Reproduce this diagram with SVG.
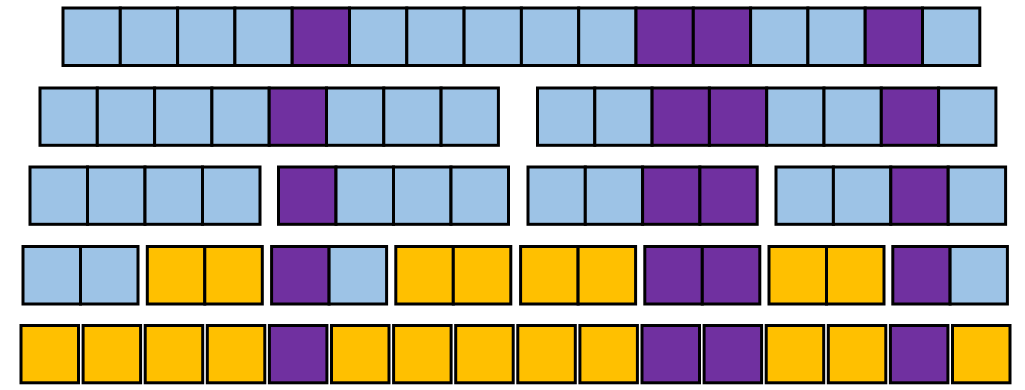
<svg xmlns="http://www.w3.org/2000/svg" width="1025" height="390" viewBox="0 0 1025 390">
<style>
rect{stroke:#000;stroke-width:3}
.b{fill:#9DC3E6}.p{fill:#7030A0}.y{fill:#FFC000}
</style>
<rect x="0" y="0" width="1025" height="390" fill="#fff" style="stroke:none"/>
<g id="row1">
<rect class="b" x="63" y="8" width="57.3" height="57.5"/>
<rect class="b" x="120.3" y="8" width="57.3" height="57.5"/>
<rect class="b" x="177.6" y="8" width="57.3" height="57.5"/>
<rect class="b" x="234.9" y="8" width="57.3" height="57.5"/>
<rect class="p" x="292.2" y="8" width="57.3" height="57.5"/>
<rect class="b" x="349.5" y="8" width="57.3" height="57.5"/>
<rect class="b" x="406.8" y="8" width="57.3" height="57.5"/>
<rect class="b" x="464.1" y="8" width="57.3" height="57.5"/>
<rect class="b" x="521.4" y="8" width="57.3" height="57.5"/>
<rect class="b" x="578.7" y="8" width="57.3" height="57.5"/>
<rect class="p" x="636" y="8" width="57.3" height="57.5"/>
<rect class="p" x="693.3" y="8" width="57.3" height="57.5"/>
<rect class="b" x="750.6" y="8" width="57.3" height="57.5"/>
<rect class="b" x="807.9" y="8" width="57.3" height="57.5"/>
<rect class="p" x="865.2" y="8" width="57.3" height="57.5"/>
<rect class="b" x="922.5" y="8" width="57.3" height="57.5"/>
</g>
<g id="row2a">
<rect class="b" x="40" y="88" width="57.3" height="57.3"/>
<rect class="b" x="97.3" y="88" width="57.3" height="57.3"/>
<rect class="b" x="154.6" y="88" width="57.3" height="57.3"/>
<rect class="b" x="211.9" y="88" width="57.3" height="57.3"/>
<rect class="p" x="269.2" y="88" width="57.3" height="57.3"/>
<rect class="b" x="326.5" y="88" width="57.3" height="57.3"/>
<rect class="b" x="383.8" y="88" width="57.3" height="57.3"/>
<rect class="b" x="441.1" y="88" width="57.3" height="57.3"/>
</g>
<g id="row2b">
<rect class="b" x="537.5" y="88" width="57.3" height="57.3"/>
<rect class="b" x="594.8" y="88" width="57.3" height="57.3"/>
<rect class="p" x="652.1" y="88" width="57.3" height="57.3"/>
<rect class="p" x="709.4" y="88" width="57.3" height="57.3"/>
<rect class="b" x="766.7" y="88" width="57.3" height="57.3"/>
<rect class="b" x="824" y="88" width="57.3" height="57.3"/>
<rect class="p" x="881.3" y="88" width="57.3" height="57.3"/>
<rect class="b" x="938.6" y="88" width="57.3" height="57.3"/>
</g>
<g id="row3a">
<rect class="b" x="30" y="167" width="57.5" height="57.3"/>
<rect class="b" x="87.5" y="167" width="57.5" height="57.3"/>
<rect class="b" x="145" y="167" width="57.5" height="57.3"/>
<rect class="b" x="202.5" y="167" width="57.5" height="57.3"/>
</g>
<g id="row3b">
<rect class="p" x="278.5" y="167" width="57.5" height="57.3"/>
<rect class="b" x="336" y="167" width="57.5" height="57.3"/>
<rect class="b" x="393.5" y="167" width="57.5" height="57.3"/>
<rect class="b" x="451" y="167" width="57.5" height="57.3"/>
</g>
<g id="row3c">
<rect class="b" x="528" y="167" width="57.3" height="57.3"/>
<rect class="b" x="585.3" y="167" width="57.3" height="57.3"/>
<rect class="p" x="642.6" y="167" width="57.3" height="57.3"/>
<rect class="p" x="699.9" y="167" width="57.3" height="57.3"/>
</g>
<g id="row3d">
<rect class="b" x="776" y="167" width="57.4" height="57.3"/>
<rect class="b" x="833.4" y="167" width="57.4" height="57.3"/>
<rect class="p" x="890.8" y="167" width="57.4" height="57.3"/>
<rect class="b" x="948.2" y="167" width="57.4" height="57.3"/>
</g>
<g id="row4a"><rect class="b" x="23" y="246.5" width="57.5" height="57.5"/><rect class="b" x="80.5" y="246.5" width="57.5" height="57.5"/></g>
<g id="row4b"><rect class="y" x="147.3" y="246.5" width="57.5" height="57.5"/><rect class="y" x="204.8" y="246.5" width="57.5" height="57.5"/></g>
<g id="row4c"><rect class="p" x="271.6" y="246.5" width="57.5" height="57.5"/><rect class="b" x="329.1" y="246.5" width="57.5" height="57.5"/></g>
<g id="row4d"><rect class="y" x="395.8" y="246.5" width="57.5" height="57.5"/><rect class="y" x="453.3" y="246.5" width="57.5" height="57.5"/></g>
<g id="row4e"><rect class="y" x="520.6" y="246.5" width="57.5" height="57.5"/><rect class="y" x="578.1" y="246.5" width="57.5" height="57.5"/></g>
<g id="row4f"><rect class="p" x="644.8" y="246.5" width="57.5" height="57.5"/><rect class="p" x="702.3" y="246.5" width="57.5" height="57.5"/></g>
<g id="row4g"><rect class="y" x="769" y="246.5" width="57.5" height="57.5"/><rect class="y" x="826.5" y="246.5" width="57.5" height="57.5"/></g>
<g id="row4h"><rect class="p" x="892.8" y="246.5" width="57.3" height="57.5"/><rect class="b" x="950.1" y="246.5" width="57.3" height="57.5"/></g>
<g id="row5">
<rect class="y" x="21" y="325.5" width="57.5" height="57.3"/>
<rect class="y" x="83.1" y="325.5" width="57.5" height="57.3"/>
<rect class="y" x="145.2" y="325.5" width="57.5" height="57.3"/>
<rect class="y" x="207.3" y="325.5" width="57.5" height="57.3"/>
<rect class="p" x="269.4" y="325.5" width="57.5" height="57.3"/>
<rect class="y" x="331.5" y="325.5" width="57.5" height="57.3"/>
<rect class="y" x="393.6" y="325.5" width="57.5" height="57.3"/>
<rect class="y" x="455.7" y="325.5" width="57.5" height="57.3"/>
<rect class="y" x="517.8" y="325.5" width="57.5" height="57.3"/>
<rect class="y" x="579.9" y="325.5" width="57.5" height="57.3"/>
<rect class="p" x="642" y="325.5" width="57.5" height="57.3"/>
<rect class="p" x="704.1" y="325.5" width="57.5" height="57.3"/>
<rect class="y" x="766.2" y="325.5" width="57.5" height="57.3"/>
<rect class="y" x="828.3" y="325.5" width="57.5" height="57.3"/>
<rect class="p" x="890.4" y="325.5" width="57.5" height="57.3"/>
<rect class="y" x="952.5" y="325.5" width="57.5" height="57.3"/>
</g>
</svg>
